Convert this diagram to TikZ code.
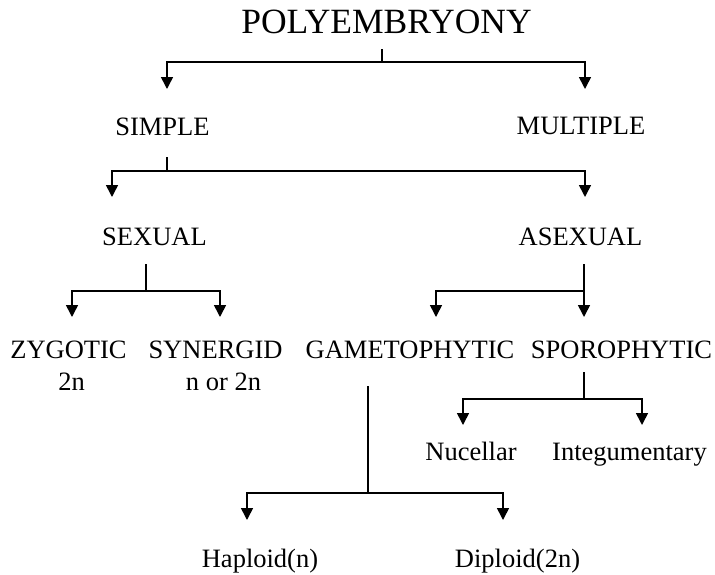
\documentclass[tikz,border=0pt]{standalone}
\usepackage{fontspec}
\setmainfont{Liberation Serif}
\usetikzlibrary{arrows.meta}
\begin{document}
\begin{tikzpicture}[x=1pt,y=-1pt,
  lbl/.style={inner sep=0pt,anchor=base,font=\fontsize{26.5}{32}\selectfont},
  ttl/.style={inner sep=0pt,anchor=base,font=\fontsize{35.5}{40}\selectfont},
  conn/.style={line width=1.6pt},
  arr/.style={line width=1.6pt,-{Triangle[length=12pt,width=12pt]}}]
\useasboundingbox (0,0) rectangle (715,574);
% texts
\node[ttl] (poly) at (386.5,33) {POLYEMBRYONY};
\node[lbl] (simple) at (162.5,135) {SIMPLE};
\node[lbl] (multiple) at (581,134) {MULTIPLE};
\node[lbl] (sexual) at (154.5,245) {SEXUAL};
\node[lbl] (asexual) at (580.5,245) {ASEXUAL};
\node[lbl] (zygotic) at (68.5,358) {ZYGOTIC};
\node[lbl] (zyg2n) at (71.5,390) {2n};
\node[lbl] (synergid) at (215.5,358) {SYNERGID};
\node[lbl] (syn2n) at (223.5,390) {n or 2n};
\node[lbl] (gameto) at (410,358) {GAMETOPHYTIC};
\node[lbl] (sporo) at (621.5,358) {SPOROPHYTIC};
\node[lbl] (nucellar) at (471,460) {Nucellar};
\node[lbl] (integ) at (629.5,460) {Integumentary};
\node[lbl] (haploid) at (260,567) {Haploid(n)};
\node[lbl] (diploid) at (517.5,567) {Diploid(2n)};
% junction coordinates
\coordinate (p0) at (382,49);   \coordinate (p1) at (382,62);
\coordinate (pl) at (167,62);   \coordinate (pr) at (585,62);
\coordinate (tsimple) at (167,89); \coordinate (tmultiple) at (585,89);
\coordinate (s0) at (167,157);  \coordinate (s1) at (167,171);
\coordinate (sl) at (112,171);  \coordinate (sr) at (585,171);
\coordinate (tsexual) at (112,197); \coordinate (tasexual) at (585,197);
\coordinate (x0) at (146,264);  \coordinate (x1) at (146,291);
\coordinate (xl) at (72,291);   \coordinate (xr) at (220,291);
\coordinate (tzyg) at (72,317); \coordinate (tsyn) at (220,317);
\coordinate (a0) at (584,264);  \coordinate (a1) at (584,291);
\coordinate (al) at (436,291);
\coordinate (tgam) at (436,317); \coordinate (tspo) at (584,317);
\coordinate (r0) at (584,372);  \coordinate (r1) at (584,399);
\coordinate (rl) at (463,399);  \coordinate (rr) at (642,399);
\coordinate (tnuc) at (463,425); \coordinate (tint) at (642,425);
\coordinate (g0) at (368,386);  \coordinate (g1) at (368,493);
\coordinate (gl) at (247,493);  \coordinate (gr) at (503,493);
\coordinate (thap) at (247,520); \coordinate (tdip) at (503,520);
% connectors
\draw[conn] (p0) -- (p1);
\draw[arr] (p1) -- (pl) -- (tsimple);
\draw[arr] (p1) -- (pr) -- (tmultiple);
\draw[conn] (s0) -- (s1);
\draw[arr] (s1) -- (sl) -- (tsexual);
\draw[arr] (s1) -- (sr) -- (tasexual);
\draw[conn] (x0) -- (x1);
\draw[arr] (x1) -- (xl) -- (tzyg);
\draw[arr] (x1) -- (xr) -- (tsyn);
\draw[arr] (a0) -- (tspo);
\draw[arr] (a1) -- (al) -- (tgam);
\draw[conn] (r0) -- (r1);
\draw[arr] (r1) -- (rl) -- (tnuc);
\draw[arr] (r1) -- (rr) -- (tint);
\draw[conn] (g0) -- (g1);
\draw[arr] (g1) -- (gl) -- (thap);
\draw[arr] (g1) -- (gr) -- (tdip);
\end{tikzpicture}
\end{document}
